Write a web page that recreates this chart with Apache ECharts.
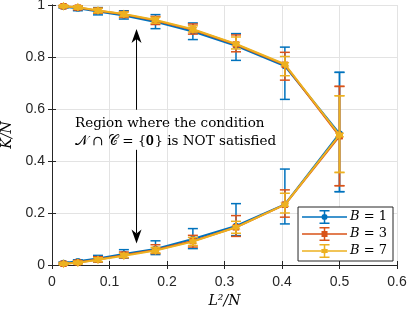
<!DOCTYPE html>
<html>
<head>
<meta charset="utf-8">
<script src="https://cdn.jsdelivr.net/npm/echarts@6/dist/echarts.min.js"></script>
<style>html,body{margin:0;padding:0;background:#fff;}#c{width:408px;height:312px;}</style>
</head>
<body>
<div id="c"></div>
<script>
// ---- data ----
const xVals = [0.02, 0.045, 0.08, 0.125, 0.18, 0.245, 0.32, 0.405, 0.5];
const seriesNames = ['B = 1', 'B = 3', 'B = 7'];

const b1UpMean = [0.993, 0.987, 0.975, 0.960, 0.935, 0.898, 0.843, 0.765, 0.505];
const b1UpLo   = [0.988, 0.978, 0.962, 0.946, 0.909, 0.867, 0.787, 0.637, 0.282];
const b1UpHi   = [0.997, 0.996, 0.990, 0.978, 0.963, 0.931, 0.890, 0.838, 0.741];
const b1DnMean = [0.008, 0.014, 0.025, 0.042, 0.062, 0.100, 0.150, 0.233, 0.505];
const b1DnLo   = [0.004, 0.008, 0.012, 0.027, 0.040, 0.063, 0.113, 0.158, 0.282];
const b1DnHi   = [0.012, 0.020, 0.037, 0.059, 0.093, 0.140, 0.236, 0.369, 0.741];

const b3UpMean = [0.995, 0.990, 0.978, 0.964, 0.940, 0.905, 0.848, 0.770, 0.496];
const b3UpLo   = [0.991, 0.982, 0.968, 0.952, 0.925, 0.888, 0.820, 0.711, 0.305];
const b3UpHi   = [0.998, 0.996, 0.988, 0.975, 0.956, 0.927, 0.885, 0.818, 0.687];
const b3DnMean = [0.005, 0.010, 0.021, 0.038, 0.058, 0.092, 0.145, 0.232, 0.496];
const b3DnLo   = [0.002, 0.005, 0.012, 0.028, 0.044, 0.069, 0.110, 0.184, 0.305];
const b3DnHi   = [0.009, 0.016, 0.032, 0.050, 0.078, 0.114, 0.190, 0.289, 0.687];

const b7UpMean = [0.995, 0.991, 0.979, 0.965, 0.942, 0.907, 0.850, 0.772, 0.500];
const b7UpLo   = [0.992, 0.984, 0.970, 0.955, 0.930, 0.896, 0.831, 0.728, 0.356];
const b7UpHi   = [0.998, 0.996, 0.987, 0.973, 0.953, 0.920, 0.877, 0.802, 0.651];
const b7DnMean = [0.005, 0.009, 0.020, 0.036, 0.056, 0.090, 0.145, 0.232, 0.500];
const b7DnLo   = [0.002, 0.005, 0.013, 0.029, 0.046, 0.075, 0.122, 0.200, 0.356];
const b7DnHi   = [0.008, 0.014, 0.028, 0.045, 0.068, 0.106, 0.168, 0.276, 0.651];

const xTicks = [0, 0.1, 0.2, 0.3, 0.4, 0.5, 0.6];
const yTicks = [0, 0.2, 0.4, 0.6, 0.8, 1];

// annotation (data coords)
const arrowX = 0.147;
const arrowUp = [0.597, 0.908];
const arrowDown = [0.443, 0.083];
const noteX = 0.04;
const noteLines = ['Region where the condition', '𝒩 ∩ 𝒞 = {𝟎} is NOT satisfied'];
const noteY = [0.543, 0.474];

// ---- styles ----
const colors = ['#0072BD', '#D95319', '#EDB120'];
function hexagram(r) {
  let pts = [];
  for (let k = 0; k < 12; k++) {
    const a = -Math.PI / 2 + k * Math.PI / 6;
    const rr = k % 2 === 0 ? r : r * 0.577;
    pts.push((rr * Math.cos(a)).toFixed(3) + ' ' + (rr * Math.sin(a)).toFixed(3));
  }
  return 'path://M' + pts.join(' L') + ' Z';
}
const markers = ['circle', 'rect', hexagram(10)];
const markerSizes = [6.5, 6.5, 9];

function legendIcon(kind) {
  let p = 'M0 6.25 H45 V7.75 H0 Z M21.75 1 H23.25 V13 H21.75 Z M17.5 0 H27.5 V1.5 H17.5 Z M17.5 12.5 H27.5 V14 H17.5 Z ';
  if (kind === 0) p += 'M19.5 7 A3 3 0 1 1 25.5 7 A3 3 0 1 1 19.5 7 Z';
  else if (kind === 1) p += 'M19.5 4 H25.5 V10 H19.5 Z';
  else {
    let pts = [];
    for (let k = 0; k < 12; k++) {
      const a = -Math.PI / 2 + k * Math.PI / 6;
      const rr = k % 2 === 0 ? 4 : 2.3;
      pts.push((22.5 + rr * Math.cos(a)).toFixed(2) + ' ' + (7 + rr * Math.sin(a)).toFixed(2));
    }
    p += 'M' + pts.join(' L') + ' Z';
  }
  return 'path://' + p;
}

const groups = [
  [b1UpMean, b1UpLo, b1UpHi, b1DnMean, b1DnLo, b1DnHi],
  [b3UpMean, b3UpLo, b3UpHi, b3DnMean, b3DnLo, b3DnHi],
  [b7UpMean, b7UpLo, b7UpHi, b7DnMean, b7DnLo, b7DnHi]
];

const series = [];
groups.forEach(function (g, i) {
  const col = colors[i];
  const branches = [[g[0], g[1], g[2]], [g[3], g[4], g[5]]];
  branches.forEach(function (b) {
    series.push({
      type: 'custom', name: seriesNames[i], z: 10 + i * 3,
      silent: true, clip: false,
      data: xVals.map(function (x, k) { return [x, b[1][k], b[2][k]]; }),
      renderItem: function (params, api) {
        const x = api.value(0);
        const pHi = api.coord([x, api.value(2)]);
        const pLo = api.coord([x, api.value(1)]);
        const cw = 5;
        const st = { stroke: col, lineWidth: 1.5 };
        return {
          type: 'group', children: [
            { type: 'line', shape: { x1: pHi[0], y1: pHi[1], x2: pLo[0], y2: pLo[1] }, style: st },
            { type: 'line', shape: { x1: pHi[0] - cw, y1: pHi[1], x2: pHi[0] + cw, y2: pHi[1] }, style: st },
            { type: 'line', shape: { x1: pLo[0] - cw, y1: pLo[1], x2: pLo[0] + cw, y2: pLo[1] }, style: st }
          ]
        };
      },
      encode: { x: 0, y: [1, 2] }
    });
    series.push({
      type: 'line', name: seriesNames[i], z: 11 + i * 3,
      data: xVals.map(function (x, k) { return [x, b[0][k]]; }),
      symbol: markers[i], symbolSize: markerSizes[i], showAllSymbols: true,
      itemStyle: { color: col, borderWidth: 0 },
      lineStyle: { color: col, width: 2 },
      emphasis: { disabled: true }, animation: false
    });
  });
});

// annotation series
series.push({
  type: 'custom', silent: true, z: 40, clip: false,
  data: [[arrowX, 0]],
  renderItem: function (params, api) {
    const children = [];
    [arrowUp, arrowDown].forEach(function (a) {
      const p0 = api.coord([arrowX, a[0]]);
      const p1 = api.coord([arrowX, a[1]]);
      const dir = p1[1] < p0[1] ? 1 : -1; // 1 = pointing up
      const L = 14, W = 5, notch = 4;
      const tip = p1;
      const baseY = tip[1] + dir * L;
      children.push({ type: 'line', shape: { x1: p0[0], y1: p0[1], x2: tip[0], y2: baseY - dir * notch }, style: { stroke: '#000', lineWidth: 1 } });
      children.push({ type: 'polygon', shape: { points: [[tip[0], tip[1]], [tip[0] + W, baseY], [tip[0], baseY - dir * notch], [tip[0] - W, baseY]] }, style: { fill: '#000' } });
    });
    noteLines.forEach(function (t, i) {
      const p = api.coord([noteX, noteY[i]]);
      children.push({ type: 'text', x: p[0], y: p[1], style: { text: t, fill: '#000', font: '13.5px "DejaVu Serif", serif', align: 'left', verticalAlign: 'middle' } });
    });
    return { type: 'group', children: children };
  }
});

const tickFont = { fontFamily: '"Liberation Sans", Arial, sans-serif', fontSize: 14, color: '#262626' };
const axisCol = '#262626';

const option = {
  animation: false,
  backgroundColor: '#fff',
  color: colors,
  grid: { left: 52, right: 11, top: 5, bottom: 47, containLabel: false, outerBoundsMode: 'none' },
  legend: {
    data: seriesNames.map(function (n, i) { return { name: n, icon: legendIcon(i), itemStyle: { color: colors[i], borderWidth: 0 } }; }),
    orient: 'vertical', right: 15, bottom: 51,
    itemWidth: 45, itemHeight: 14, itemGap: 3,
    padding: [3, 6, 3, 4],
    backgroundColor: '#fff', borderColor: '#262626', borderWidth: 1, borderRadius: 0,
    selectedMode: false,
    textStyle: { fontFamily: '"DejaVu Serif", serif', fontSize: 13, color: '#000', padding: [0, 0, 0, -2] },
    formatter: function (n) { return '{i|B} = ' + n.split('= ')[1]; },
    z: 50
  },
  xAxis: [{
    type: 'value', min: 0, max: 0.6, interval: 0.1,
    name: 'L²/N', nameLocation: 'middle', nameGap: 28,
    nameTextStyle: { fontFamily: '"DejaVu Serif", serif', fontStyle: 'italic', fontSize: 14, color: '#000' },
    axisLine: { show: true, lineStyle: { color: axisCol, width: 1 } },
    axisTick: { show: true, inside: true, length: 4, lineStyle: { color: axisCol } },
    axisLabel: Object.assign({ margin: 10, formatter: function (v) { return String(+v.toFixed(1)); } }, tickFont),
    splitLine: { show: true, lineStyle: { color: '#e3e3e3', width: 1 } }
  }, {
    type: 'value', min: 0, max: 0.6, interval: 0.1, position: 'top',
    axisLine: { show: true, lineStyle: { color: axisCol, width: 1 } },
    axisTick: { show: true, inside: true, length: 4, lineStyle: { color: axisCol } },
    axisLabel: { show: false }, splitLine: { show: false }
  }],
  yAxis: [{
    type: 'value', min: 0, max: 1, interval: 0.2,
    name: 'K/N', nameLocation: 'middle', nameGap: 34, nameRotate: 90,
    nameTextStyle: { fontFamily: '"DejaVu Serif", serif', fontStyle: 'italic', fontSize: 14, color: '#000' },
    axisLine: { show: true, lineStyle: { color: axisCol, width: 1 } },
    axisTick: { show: true, inside: true, length: 4, lineStyle: { color: axisCol } },
    axisLabel: Object.assign({ margin: 7, formatter: function (v) { return String(+v.toFixed(1)); } }, tickFont),
    splitLine: { show: true, lineStyle: { color: '#e3e3e3', width: 1 } }
  }, {
    type: 'value', min: 0, max: 1, interval: 0.2, position: 'right',
    axisLine: { show: true, lineStyle: { color: axisCol, width: 1 } },
    axisTick: { show: true, inside: true, length: 4, lineStyle: { color: axisCol } },
    axisLabel: { show: false }, splitLine: { show: false }
  }],
  series: series
};
option.legend.textStyle.rich = { i: { fontStyle: 'italic', fontFamily: '"DejaVu Serif", serif', fontSize: 13 } };

const chart = echarts.init(document.getElementById('c'), null, { renderer: 'canvas' });
chart.setOption(option);
</script>
</body>
</html>
